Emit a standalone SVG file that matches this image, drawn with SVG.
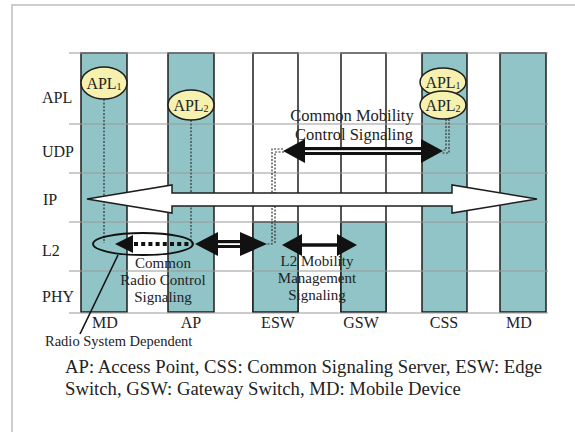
<svg xmlns="http://www.w3.org/2000/svg" width="575" height="432" viewBox="0 0 575 432">
<style>
text{font-family:"Liberation Serif","Times New Roman",serif;fill:#222}
.col{fill:#90c4c6;stroke:#1e1e1e;stroke-width:1.5}
.wcol{fill:#fff;stroke:#1e1e1e;stroke-width:1.5}
.grid{stroke:#9a9a9a;stroke-width:1.2;fill:none}
.lay{font-size:16px}
.bot{font-size:16px;text-anchor:middle}
.lbl{font-size:16.5px;text-anchor:middle}
.lbs{font-size:15px;text-anchor:middle}
.apl{fill:#f6f1ae;stroke:#1e1e1e;stroke-width:1.5}
.apt{font-size:16px;text-anchor:middle}
.dot{stroke:#333;stroke-width:1.2;stroke-dasharray:2 1.5;fill:none}
.blk{fill:#111;stroke:none}
</style>
<rect x="12" y="5" width="580" height="440" fill="#fff" stroke="#bdbdbd" stroke-width="1.5"/>
<g id="columns">
<g id="col-md1"><rect class="col" x="81" y="53" width="46" height="259"/></g>
<g id="col-ap"><rect class="col" x="168" y="53" width="46" height="259"/></g>
<g id="col-esw"><rect class="wcol" x="253" y="53" width="45" height="259"/><rect class="col" x="253" y="222" width="45" height="90"/></g>
<g id="col-gsw"><rect class="wcol" x="341" y="53" width="45" height="259"/><rect class="col" x="341" y="222" width="45" height="90"/></g>
<g id="col-css"><rect class="col" x="422" y="53" width="45" height="259"/></g>
<g id="col-md2"><rect class="col" x="500" y="53" width="46" height="259"/></g>
</g>
<g id="grid">
<path class="grid" d="M69 53H548M69 124H548M69 173H548M69 222H548M69 271H548M69 313H548"/>
</g>
<g id="layer-labels">
<text class="lay" x="42" y="103">APL</text>
<text class="lay" x="42" y="157">UDP</text>
<text class="lay" x="43" y="205">IP</text>
<text class="lay" x="42" y="256">L2</text>
<text class="lay" x="42" y="302">PHY</text>
</g>
<g id="connectors">
<path class="dot" d="M104 99V243"/>
<path class="dot" d="M191 120V243"/>
<path class="dot" d="M283 149H272V244H267"/>
<path class="dot" d="M284 152H275V244"/>
<path class="dot" d="M446 119V150H442"/>
<path class="dot" d="M449 119V153H442"/>
<polygon points="87,199 172,185 172,193 452,193 452,185 537,199 452,213 452,206 172,206 172,213" fill="#fff" stroke="#1e1e1e" stroke-width="1.5"/>
<g id="cmcs-arrow">
<rect class="blk" x="300" y="147" width="125" height="8"/>
<rect x="300" y="150.2" width="125" height="1.8" fill="#fff"/>
<polygon class="blk" points="283,151 305,139 305,163"/>
<polygon class="blk" points="443,151 421,139 421,163"/>
</g>
<ellipse cx="143" cy="244" rx="50" ry="11" fill="none" stroke="#111" stroke-width="1.8"/>
<polygon class="blk" points="115,244 133,235 133,253"/>
<path d="M134 244H192" stroke="#111" stroke-width="4" stroke-dasharray="4 3.2"/>
<g id="ap-esw-arrow">
<rect class="blk" x="214" y="240" width="30" height="8"/>
<rect x="214" y="243.2" width="30" height="1.8" fill="#fff"/>
<polygon class="blk" points="195,244 218,232 218,256"/>
<polygon class="blk" points="267,244 240,232 240,256"/>
</g>
<g id="esw-gsw-arrow">
<path d="M300 245H340" stroke="#111" stroke-width="3.5"/>
<polygon class="blk" points="282,245 302,234 302,256"/>
<polygon class="blk" points="357,245 337,234 337,256"/>
</g>
<path d="M118 255L80 334" stroke="#111" stroke-width="1.6"/>
</g>
<g id="apl1-md"><ellipse class="apl" cx="104" cy="83" rx="23" ry="16"/><text class="apt" x="104" y="89">APL<tspan font-size="10" dy="1">1</tspan></text></g>
<g id="apl2-ap"><ellipse class="apl" cx="191" cy="105" rx="23" ry="15"/><text class="apt" x="191" y="111">APL<tspan font-size="10" dy="1">2</tspan></text></g>
<g id="apl1-css"><ellipse class="apl" cx="443" cy="82" rx="23" ry="14"/><text class="apt" x="443" y="88">APL<tspan font-size="10" dy="1">1</tspan></text></g>
<g id="apl2-css"><ellipse class="apl" cx="443" cy="105" rx="23" ry="14"/><text class="apt" x="443" y="111">APL<tspan font-size="10" dy="1">2</tspan></text></g>
<g id="labels">
<text class="lbl" x="352" y="121">Common Mobility</text>
<text class="lbl" x="354" y="140">Control Signaling</text>
<text class="lbs" x="163" y="268">Common</text>
<text class="lbs" x="163" y="285">Radio Control</text>
<text class="lbs" x="163" y="302">Signaling</text>
<text class="lbs" x="317" y="266">L2 Mobility</text>
<text class="lbs" x="317" y="283">Management</text>
<text class="lbs" x="317" y="300">Signaling</text>
</g>
<g id="bottom-labels">
<text class="bot" x="105" y="328">MD</text>
<text class="bot" x="191" y="328">AP</text>
<text class="bot" x="278" y="328">ESW</text>
<text class="bot" x="361" y="328">GSW</text>
<text class="bot" x="444" y="328">CSS</text>
<text class="bot" x="519" y="328">MD</text>
<text x="45" y="346" font-size="14.5">Radio System Dependent</text>
</g>
<g id="caption">
<text x="65" y="373" font-size="18.7">AP: Access Point, CSS: Common Signaling Server, ESW: Edge</text>
<text x="65" y="395" font-size="18.7">Switch, GSW: Gateway Switch, MD: Mobile Device</text>
</g>
</svg>
